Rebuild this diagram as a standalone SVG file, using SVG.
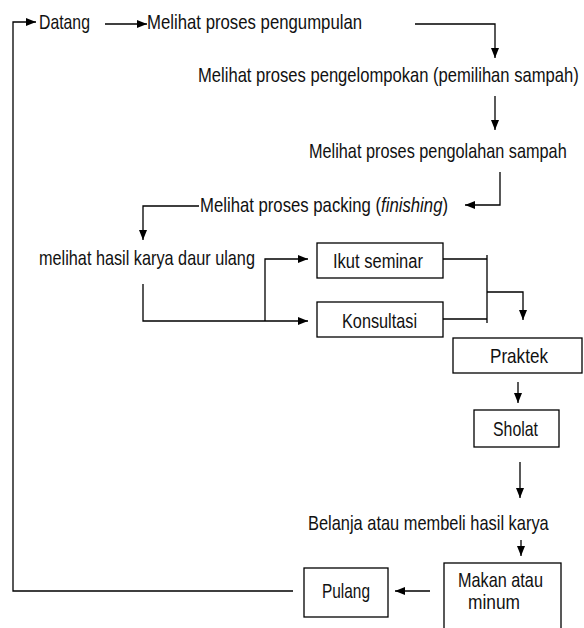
<svg xmlns="http://www.w3.org/2000/svg" width="584" height="628" viewBox="0 0 584 628">
<style>
  text { font-family: "Liberation Sans", Arial, sans-serif; font-size: 20px; fill: #111; }
  .c { stroke: #000; stroke-width: 1.3; fill: none; }
  .box { stroke: #000; stroke-width: 1.3; fill: #fff; }
</style>
<defs>
  <marker id="ah" markerUnits="userSpaceOnUse" markerWidth="10" markerHeight="10" viewBox="0 0 10 10" refX="10" refY="5" orient="auto">
    <path d="M0,1 L10,5 L0,9 Z" fill="#000"/>
  </marker>
</defs>
<rect width="584" height="628" fill="#fff"/>
<g id="connectors">
  <path class="c" d="M293,591 H13 V22 H36" marker-end="url(#ah)"/>
  <path class="c" d="M105,24 H147" marker-end="url(#ah)"/>
  <path class="c" d="M415,24 H495 V58" marker-end="url(#ah)"/>
  <path class="c" d="M495,96 V130" marker-end="url(#ah)"/>
  <path class="c" d="M500,172 V205 H465" marker-end="url(#ah)"/>
  <path class="c" d="M199,206 H143 V240" marker-end="url(#ah)"/>
  <path class="c" d="M143,284 V321 H308" marker-end="url(#ah)"/>
  <path class="c" d="M265,321 V259 H308" marker-end="url(#ah)"/>
  <path class="c" d="M443,259 H487 M443,319 H487 M487,255 V323"/>
  <path class="c" d="M487,292 H523 V320" marker-end="url(#ah)"/>
  <path class="c" d="M518,382 V403" marker-end="url(#ah)"/>
  <path class="c" d="M520,462 V498" marker-end="url(#ah)"/>
  <path class="c" d="M521,540 V556" marker-end="url(#ah)"/>
  <path class="c" d="M430,591 H395" marker-end="url(#ah)"/>
</g>
<g id="datang"><text transform="translate(39,29) scale(0.79,1)">Datang</text></g>
<g id="pengumpulan"><text transform="translate(147,29) scale(0.838,1)">Melihat proses pengumpulan</text></g>
<g id="pengelompokan"><text transform="translate(198,82) scale(0.83,1)">Melihat proses pengelompokan (pemilihan sampah)</text></g>
<g id="pengolahan"><text transform="translate(309,158) scale(0.814,1)">Melihat proses pengolahan sampah</text></g>
<g id="packing"><text transform="translate(200,212) scale(0.836,1)">Melihat proses packing (<tspan font-style="italic">finishing</tspan>)</text></g>
<g id="hasil"><text transform="translate(39,265) scale(0.813,1)">melihat hasil karya daur ulang</text></g>
<g id="seminar"><rect class="box" x="317" y="243" width="126" height="35"/><text transform="translate(333,268) scale(0.826,1)">Ikut seminar</text></g>
<g id="konsultasi"><rect class="box" x="317" y="302" width="126" height="35"/><text transform="translate(342,327.5) scale(0.813,1)">Konsultasi</text></g>
<g id="praktek"><rect class="box" x="453" y="338" width="129" height="35"/><text transform="translate(490,362.5) scale(0.855,1)">Praktek</text></g>
<g id="sholat"><rect class="box" x="474" y="410" width="85" height="37"/><text transform="translate(493,436) scale(0.794,1)">Sholat</text></g>
<g id="belanja"><text transform="translate(308,530) scale(0.821,1)">Belanja atau membeli hasil karya</text></g>
<g id="makan"><rect class="box" x="444" y="563" width="117" height="72"/><text transform="translate(458,587) scale(0.813,1)">Makan atau</text><text transform="translate(468,609) scale(0.867,1)">minum</text></g>
<g id="pulang"><rect class="box" x="304" y="568" width="84" height="49"/><text transform="translate(322,598) scale(0.771,1)">Pulang</text></g>
</svg>
